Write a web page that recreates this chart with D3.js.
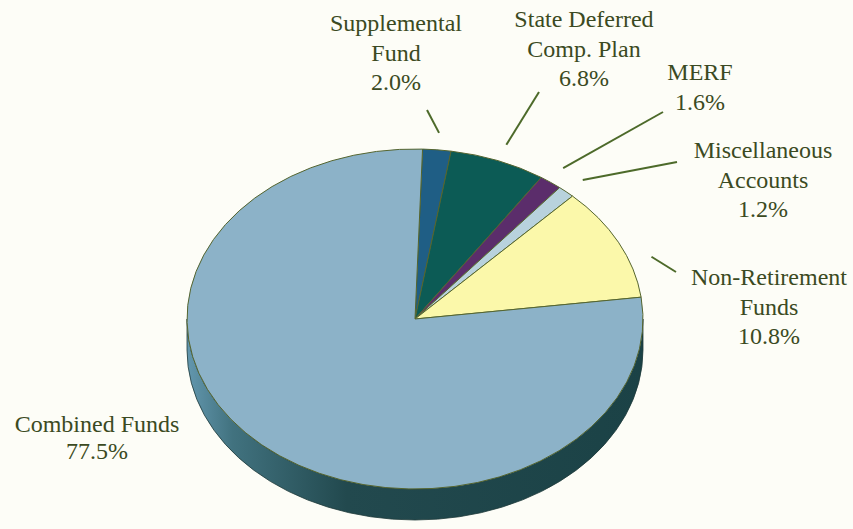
<!DOCTYPE html>
<html>
<head>
<meta charset="utf-8">
<script src="https://cdn.jsdelivr.net/npm/d3@7"></script>
<style>
  html, body { margin: 0; padding: 0; background: #fdfdf7; }
  svg { display: block; }
  .lbl { font-family: "Liberation Serif", "Times New Roman", "DejaVu Serif", serif; font-size: 24px; fill: #3b4a22; }
</style>
</head>
<body>
<div id="viz"></div>
<script>
// ---- data (clockwise from the top of the pie) ----
var categories = ["Supplemental Fund", "State Deferred Comp. Plan", "MERF", "Miscellaneous Accounts", "Non-Retirement Funds", "Combined Funds"];
var values     = [2.0, 6.8, 1.6, 1.2, 10.8, 77.5];
var labelLines = [["Supplemental", "Fund", "2.0%"],
                  ["State Deferred", "Comp. Plan", "6.8%"],
                  ["MERF", "1.6%"],
                  ["Miscellaneous", "Accounts", "1.2%"],
                  ["Non-Retirement", "Funds", "10.8%"],
                  ["Combined Funds", "77.5%"]];
var colors     = ["#1f5e85", "#0c5b55", "#5b2d6b", "#b8d2dd", "#fbf8aa", "#8cb2c8"];

// label layout: text anchor (centre x, first baseline), leader line end,
// and where along the slice the leader starts (0..1)
var labelLayout = [
    {x: 396, y: 31,  lead: [427, 110], at: 0.5},
    {x: 584, y: 27,  lead: [539, 92],  at: 0.5},
    {x: 700, y: 80,  lead: [663, 112], at: 0.45},
    {x: 763, y: 158, lead: [677, 162], at: 0.6},
    {x: 769, y: 285, lead: [676, 272], at: 0.69},
    {x: 97,  y: 432, lead: null}
];

var W = 853, H = 529;
var cx = 415, cy = 319, rx = 228, ry = 170, depth = 31;

var svg = d3.select("#viz").append("svg")
    .attr("width", W)
    .attr("height", H);

var defs = svg.append("defs");
var grad = defs.append("linearGradient")
    .attr("id", "sideGrad")
    .attr("x1", "0%").attr("x2", "100%").attr("y1", "0%").attr("y2", "0%");
grad.append("stop").attr("offset", "0%").attr("stop-color", "#6397ae");
grad.append("stop").attr("offset", "10%").attr("stop-color", "#41727f");
grad.append("stop").attr("offset", "35%").attr("stop-color", "#22494e");
grad.append("stop").attr("offset", "100%").attr("stop-color", "#1b4246");

// pie angles (d3: clockwise from 12 o'clock)
var startA = 1.9 * Math.PI / 180;
var pie = d3.pie().sort(null).startAngle(startA).endAngle(startA + 2 * Math.PI);
var arcs = pie(values);

function pt(a, k) {
    k = k || 1;
    return [cx + rx * k * Math.sin(a), cy - ry * k * Math.cos(a)];
}

// side wall (front half of the ellipse)
svg.append("path")
    .attr("d", "M" + (cx - rx) + "," + cy +
        " A" + rx + "," + ry + " 0 0 0 " + (cx + rx) + "," + cy +
        " L" + (cx + rx) + "," + (cy + depth) +
        " A" + rx + "," + ry + " 0 0 1 " + (cx - rx) + "," + (cy + depth) + " Z")
    .attr("fill", "url(#sideGrad)")
    .attr("stroke", "#1e3a3a")
    .attr("stroke-width", 0.8);

// top face slices
svg.append("g")
    .selectAll("path")
    .data(arcs)
    .enter()
    .append("path")
    .attr("d", function(d) {
        var p0 = pt(d.startAngle), p1 = pt(d.endAngle);
        var large = (d.endAngle - d.startAngle) > Math.PI ? 1 : 0;
        return "M" + cx + "," + cy + " L" + p0[0] + "," + p0[1] +
            " A" + rx + "," + ry + " 0 " + large + " 1 " + p1[0] + "," + p1[1] + " Z";
    })
    .attr("fill", function(d, i) { return colors[i]; })
    .attr("stroke", "#55652f")
    .attr("stroke-width", 1)
    .attr("stroke-linejoin", "round");

// leader lines
function leadStart(d) {
    var f = labelLayout[d.index].at;
    return pt(d.startAngle + (d.endAngle - d.startAngle) * f, 1.1);
}
svg.append("g")
    .selectAll("line")
    .data(arcs.filter(function(d, i) { return labelLayout[i].lead; }))
    .enter()
    .append("line")
    .attr("x1", function(d) { return leadStart(d)[0]; })
    .attr("y1", function(d) { return leadStart(d)[1]; })
    .attr("x2", function(d) { return labelLayout[d.index].lead[0]; })
    .attr("y2", function(d) { return labelLayout[d.index].lead[1]; })
    .attr("stroke", "#4d6a2a")
    .attr("stroke-width", 2);

// labels
var lg = svg.append("g");
labelLines.forEach(function(lines, i) {
    var t = lg.append("text")
        .attr("class", "lbl")
        .attr("text-anchor", "middle")
        .attr("x", labelLayout[i].x)
        .attr("y", labelLayout[i].y);
    lines.forEach(function(s, j) {
        t.append("tspan")
            .attr("x", labelLayout[i].x)
            .attr("dy", j === 0 ? 0 : (i === 5 ? 27 : 29.5))
            .text(s);
    });
});
</script>
</body>
</html>
